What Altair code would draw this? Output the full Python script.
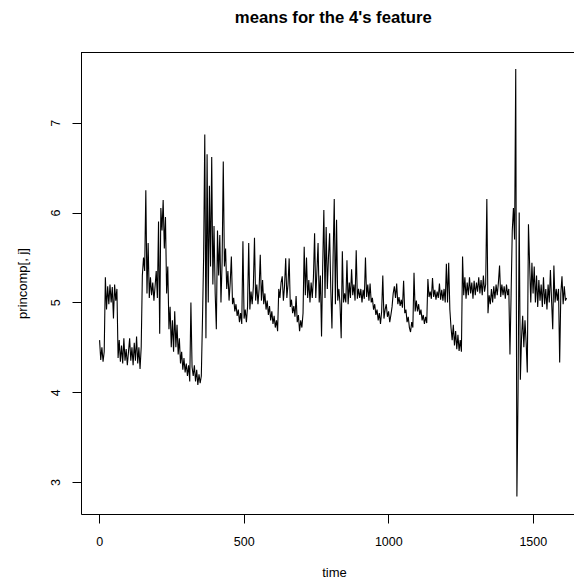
import altair as alt
import pandas as pd

title_text = "means for the 4's feature"
x_label = "time"
y_label = "princomp[, j]"
x_ticks = [0, 500, 1000, 1500]
y_ticks = [3, 4, 5, 6, 7]
time_start = 1
time_step = 4

seg_0000 = [4.58, 4.36, 4.5, 4.34, 4.45, 5.28, 4.92, 5.18, 4.98, 5.2, 5.0, 5.17, 4.82, 5.2, 5.02, 5.15, 4.38, 4.58, 4.34, 4.52, 4.32, 4.6, 4.35, 4.48, 4.3]
seg_0100 = [4.45, 4.6, 4.35, 4.5, 4.3, 4.55, 4.35, 4.62, 4.32, 4.5, 4.26, 4.5, 5.3, 5.5, 5.35, 6.25, 5.1, 5.66, 5.05, 5.28, 5.08, 5.22, 5.02, 5.18, 5.35]
seg_0200 = [5.05, 5.9, 4.65, 6.05, 5.8, 6.14, 5.6, 5.95, 5.1, 5.4, 4.7, 4.95, 4.5, 4.8, 4.45, 4.9, 4.5, 4.75, 4.42, 4.6, 4.32, 4.45, 4.25, 4.38, 4.22]
seg_0300 = [4.32, 4.18, 4.3, 4.12, 5.0, 4.28, 4.18, 4.3, 4.12, 4.25, 4.08, 4.2, 4.1, 4.18, 4.8, 5.5, 6.87, 4.6, 6.65, 5.0, 6.3, 5.4, 6.62, 5.2, 5.85]
seg_0400 = [5.1, 4.7, 5.8, 5.3, 5.75, 5.0, 5.45, 6.57, 5.4, 5.6, 5.15, 5.35, 5.02, 5.22, 5.51, 4.98, 5.05, 4.9, 4.98, 4.85, 4.92, 4.78, 4.88, 4.76, 5.68]
seg_0500 = [4.82, 4.92, 4.78, 4.95, 5.66, 4.92, 5.12, 4.98, 5.17, 5.72, 5.02, 5.2, 4.98, 5.15, 5.53, 5.02, 5.25, 4.98, 5.1, 4.92, 5.02, 4.86, 4.96, 4.8, 4.9]
seg_0600 = [4.76, 4.85, 4.72, 4.8, 4.68, 5.15, 5.05, 5.22, 5.29, 5.02, 5.18, 5.49, 5.05, 5.2, 5.49, 4.95, 5.03, 4.88, 4.96, 4.84, 5.07, 4.78, 4.86, 4.68, 4.8]
seg_0700 = [4.72, 4.88, 5.62, 5.08, 5.5, 5.05, 5.25, 5.0, 5.22, 5.05, 5.28, 5.77, 5.05, 5.35, 5.66, 5.0, 5.3, 4.62, 5.4, 6.03, 5.05, 5.84, 5.15, 5.5, 5.77]
seg_0800 = [5.15, 4.71, 5.5, 6.15, 4.98, 5.92, 5.02, 5.15, 4.98, 4.6, 5.57, 5.0, 5.1, 5.0, 5.47, 4.98, 5.22, 5.05, 5.37, 5.08, 5.2, 5.02, 5.58, 5.04, 5.15]
seg_0900 = [5.05, 5.15, 5.0, 5.14, 5.04, 5.5, 5.06, 5.2, 5.02, 5.21, 5.0, 5.05, 4.92, 4.98, 4.86, 4.92, 4.8, 4.88, 4.76, 4.9, 5.3, 4.82, 4.92, 4.98, 4.84]
seg_1000 = [4.9, 4.78, 4.86, 4.95, 5.1, 5.18, 5.05, 5.21, 4.98, 5.06, 4.96, 5.03, 4.94, 5.24, 4.88, 4.92, 4.78, 4.84, 4.72, 4.67, 4.78, 4.72, 5.33, 4.9, 5.02]
seg_1100 = [4.9, 4.98, 4.86, 4.92, 4.8, 4.86, 4.76, 4.84, 4.77, 5.26, 5.06, 5.12, 5.04, 5.27, 5.06, 5.14, 5.03, 5.12, 5.05, 5.21, 5.03, 5.14, 5.02, 5.15, 5.0]
seg_1200 = [5.43, 5.0, 5.44, 4.92, 4.72, 4.58, 4.75, 4.52, 4.68, 4.48, 4.64, 4.46, 4.58, 4.45, 5.51, 5.08, 5.28, 5.04, 5.22, 5.08, 5.28, 5.1, 5.22, 5.04, 5.24]
seg_1300 = [5.08, 5.22, 5.12, 5.28, 5.1, 5.25, 5.08, 5.3, 5.12, 5.2, 6.15, 4.88, 5.08, 4.98, 5.15, 5.0, 5.18, 5.04, 5.2, 5.08, 5.22, 5.41, 5.06, 5.2, 5.08]
seg_1400 = [5.18, 5.04, 5.2, 5.08, 5.15, 4.42, 5.1, 5.8, 6.05, 5.7, 7.6, 2.84, 3.99, 6.0, 4.14, 4.6, 4.85, 4.5, 4.8, 4.55, 4.22, 5.87, 5.43, 5.0, 5.44]
seg_1500 = [5.1, 5.4, 5.0, 5.3, 4.95, 5.25, 5.02, 5.2, 4.95, 5.28, 4.98, 5.15, 4.92, 5.2, 5.0, 5.36, 5.02, 4.7, 5.41, 5.0, 5.15, 5.02, 5.15, 4.33, 5.1, 5.29, 4.98, 5.18, 5.02, 5.05]

values = (seg_0000 + seg_0100 + seg_0200 + seg_0300 + seg_0400 + seg_0500 + seg_0600
          + seg_0700 + seg_0800 + seg_0900 + seg_1000 + seg_1100 + seg_1200 + seg_1300
          + seg_1400 + seg_1500)
times = [time_start + time_step * i for i in range(len(values))]
df = pd.DataFrame({"time": times, "value": values})

PLOT_W = 493
PLOT_H = 462
FONT = "Liberation Sans"

x_axis = alt.Axis(
    values=x_ticks, format="d", title=x_label, grid=False,
    domain=True, domainColor="#000", domainWidth=1,
    ticks=True, tickColor="#000", tickSize=9, tickWidth=1,
    labelFont=FONT, labelFontSize=12.5, labelColor="#000", labelPadding=12,
    labelFlush=False, labelOverlap=False,
    titleFont=FONT, titleFontSize=13, titleFontWeight="normal", titleColor="#000",
    titleX=253, titleY=62, titleAlign="center", titleBaseline="alphabetic",
)
y_axis = alt.Axis(
    values=y_ticks, format="d", title=y_label, grid=False,
    domain=True, domainColor="#000", domainWidth=1,
    ticks=True, tickColor="#000", tickSize=9, tickWidth=1,
    labelFont=FONT, labelFontSize=12.5, labelColor="#000", labelPadding=9.5,
    labelAngle=270, labelAlign="center", labelBaseline="bottom",
    labelFlush=False, labelOverlap=False,
    titleFont=FONT, titleFontSize=13, titleFontWeight="normal", titleColor="#000",
    titleAngle=270, titleX=-58.5, titleY=231, titleAlign="center", titleBaseline="middle",
)

line = alt.Chart(df).mark_line(color="#000", strokeWidth=1.1, clip=True).encode(
    x=alt.X("time:Q", axis=x_axis,
            scale=alt.Scale(domain=[-63.3, 1642.6], nice=False, zero=False)),
    y=alt.Y("value:Q", axis=y_axis,
            scale=alt.Scale(domain=[2.644, 7.788], nice=False, zero=False)),
)

one_row = pd.DataFrame({"label": [title_text]})

top_border = alt.Chart(one_row).mark_rule(
    color="#000", strokeWidth=1
).encode(x=alt.value(0), x2=alt.value(PLOT_W), y=alt.value(0.5))

title_mark = alt.Chart(one_row).mark_text(
    font=FONT, fontSize=16.7, fontWeight="bold", color="#000",
    align="center", baseline="alphabetic",
).encode(text="label:N", x=alt.value(252.3), y=alt.value(-29))

chart = alt.layer(line, top_border, title_mark).properties(
    width=PLOT_W,
    height=PLOT_H,
    autosize=alt.AutoSizeParams(type="none"),
    padding={"left": 73, "top": 44, "right": 0, "bottom": 65},
).configure_view(stroke="transparent").configure(background="white")

chart.save("out.html", embed_options={"renderer": "svg", "actions": False})
